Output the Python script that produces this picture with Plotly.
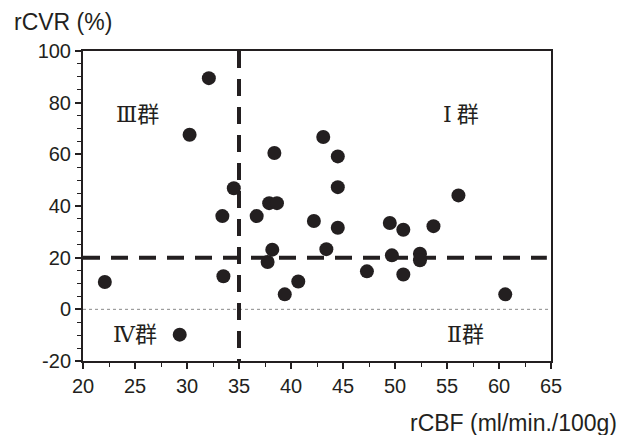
import plotly.graph_objects as go

# Data
rcbf = [32.1, 30.25, 34.5, 43.1, 38.4, 44.5, 44.5, 37.9, 38.65, 56.1,
        33.4, 22.1, 33.5, 29.3, 36.7, 42.2, 44.5, 49.5, 38.2, 37.75,
        43.4, 40.7, 39.4, 47.3, 49.7, 50.8, 53.7, 52.4, 52.4, 50.8, 60.6]
rcvr = [89.5, 67.6, 46.9, 66.7, 60.5, 59.2, 47.3, 41.1, 41.1, 44.1,
        36.1, 10.6, 12.8, -9.8, 36.1, 34.2, 31.6, 33.4, 23.1, 18.3,
        23.3, 10.8, 5.8, 14.7, 20.9, 30.8, 32.2, 21.5, 19.0, 13.5, 5.8]

x_threshold = 35
y_threshold = 20
x_range = [20, 65]
y_range = [-20, 100]

group_numerals = ["Ⅲ", "Ⅰ", "Ⅳ", "Ⅱ"]
group_sep = ["", " ", "", ""]
group_word = "群"
group_x = [25.2, 56.3, 25.0, 56.8]
group_y = [76.3, 76.3, -8.8, -8.8]

x_ticks = [20, 25, 30, 35, 40, 45, 50, 55, 60, 65]
y_ticks = [-20, 0, 20, 40, 60, 80, 100]
y_ticktext = ["-20", "0", "20", "40", "60", "80", "100"]

ink = "#231f20"

fig = go.Figure()

# zero dotted line
fig.add_trace(go.Scatter(x=x_range, y=[0, 0], mode="lines",
                         line=dict(color="#8a8a8a", width=1, dash="dot"),
                         hoverinfo="skip", showlegend=False))
# threshold dashed lines
fig.add_trace(go.Scatter(x=[x_range[0], x_range[1] - 0.4], y=[y_threshold, y_threshold], mode="lines",
                         line=dict(color=ink, width=4, dash="17px,11px"),
                         hoverinfo="skip", showlegend=False))
fig.add_trace(go.Scatter(x=[x_threshold, x_threshold], y=[y_range[1], y_range[0]], mode="lines",
                         line=dict(color=ink, width=4, dash="17px,11px"),
                         hoverinfo="skip", showlegend=False, cliponaxis=False))

fig.add_trace(go.Scatter(x=rcbf, y=rcvr, mode="markers",
                         marker=dict(color=ink, size=14, line=dict(width=0)),
                         showlegend=False))

for num, sep, gx, gy in zip(group_numerals, group_sep, group_x, group_y):
    txt = ('<span style="font-family:DejaVu Serif">' + num + '</span>' + sep + group_word)
    fig.add_annotation(x=gx, y=gy, text=txt, showarrow=False,
                       font=dict(family="Noto Sans CJK JP", size=22, color=ink))

axis_common = dict(showgrid=False, zeroline=False, showline=True, linecolor=ink,
                   linewidth=2, mirror=True, ticks="outside", ticklen=6,
                   tickwidth=1.5, tickcolor=ink,
                   tickfont=dict(family="Liberation Sans, Arial", size=20, color=ink))

fig.update_xaxes(range=x_range, tickvals=x_ticks,
                 minor=dict(dtick=2.5, ticks="outside", ticklen=4, tickcolor=ink, tickwidth=1.2),
                 **axis_common)
fig.update_yaxes(range=y_range, tickvals=y_ticks, ticktext=y_ticktext,
                 minor=dict(dtick=5, ticks="outside", ticklen=4, tickcolor=ink, tickwidth=1.2),
                 **axis_common)

fig.add_annotation(xref="paper", yref="paper", x=-0.152, y=1.095, xanchor="left", yanchor="middle",
                   text="rCVR (%)", showarrow=False,
                   font=dict(family="Liberation Sans, Arial", size=23, color=ink))
fig.add_annotation(xref="paper", yref="paper", x=1.145, y=-0.2, xanchor="right", yanchor="middle",
                   text="rCBF (ml/min./100g)", showarrow=False,
                   font=dict(family="Liberation Sans, Arial", size=23, color=ink))

fig.update_layout(width=629, height=435, margin=dict(l=83, r=78, t=51, b=74),
                  plot_bgcolor="white", paper_bgcolor="white")

fig.write_html("out.html", config={"displayModeBar": False},
               post_script="document.body.style.margin='0';document.body.style.overflow='hidden';")
